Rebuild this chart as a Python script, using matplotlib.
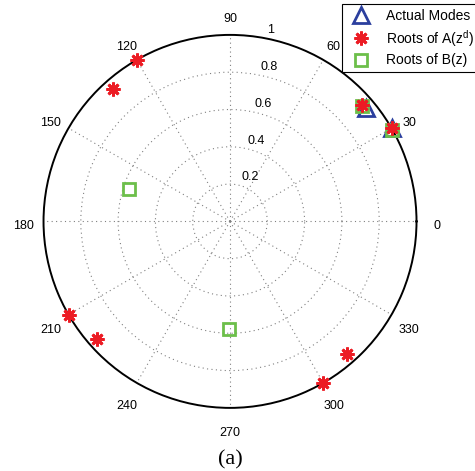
import matplotlib.pyplot as plt
import numpy as np

plt.rcParams['font.family'] = ['Liberation Sans', 'DejaVu Sans']
plt.rcParams['mathtext.fontset'] = 'custom'
plt.rcParams['mathtext.rm'] = 'Liberation Sans'

# pole locations: angle in degrees, radius (magnitude)
modes_deg = [40.0, 30.0]
modes_r = [0.95, 1.0]

roots_a_deg = [30.0, 41.5, 120.0, 131.5, 210.0, 221.5, 300.0, 311.5]
roots_a_r = [1.0, 0.945, 1.0, 0.945, 1.0, 0.95, 1.0, 0.95]

roots_b_deg = [41.2, 29.4, 162.0, 269.4]
roots_b_r = [0.94, 1.0, 0.57, 0.575]

ring_vals = [0.2, 0.4, 0.6, 0.8, 1.0]
ring_labels = ['0.2', '0.4', '0.6', '0.8', '1']
spoke_deg = np.arange(0, 360, 30)

fig = plt.figure(figsize=(4.75, 4.71), dpi=100)
ax = fig.add_axes([0.0916, 0.1340, 0.7853, 0.7919], projection='polar')
ax.set_ylim(0, 1)
ax.set_thetagrids(spoke_deg, [''] * len(spoke_deg))
ax.set_rgrids(ring_vals[:-1], [''] * (len(ring_vals) - 1))
ax.grid(True, color='#808080', linestyle=(0, (1, 3)), linewidth=0.8)
ax.spines['polar'].set_color('black')
ax.spines['polar'].set_linewidth(1.4)

# angle labels around the outside
for d in spoke_deg:
    ax.annotate(str(d), xy=(np.deg2rad(d), 1.11), xytext=(0, -3.5),
                textcoords='offset points', ha='center', va='center',
                fontsize=9, annotation_clip=False)

# radius labels along the 80 degree line
for r, lab in zip(ring_vals, ring_labels):
    ax.annotate(lab, xy=(np.deg2rad(80), r), xytext=(3.5, 1),
                textcoords='offset points', ha='left', va='bottom',
                fontsize=9, annotation_clip=False)

ax.plot(np.deg2rad(modes_deg), modes_r, linestyle='none', marker='^',
        markersize=11, markerfacecolor='none', markeredgecolor='#2b3f9e',
        markeredgewidth=2, label='Actual Modes', zorder=3, clip_on=False)
ax.plot(np.deg2rad(roots_a_deg), roots_a_r, linestyle='none', marker=(8, 2, 0),
        markersize=10, markeredgecolor='#ec1c24', markerfacecolor='#ec1c24',
        markeredgewidth=2, label='Roots of A(z$^\\mathrm{d}$)', zorder=5,
        clip_on=False)
ax.plot(np.deg2rad(roots_b_deg), roots_b_r, linestyle='none', marker='s',
        markersize=8, markerfacecolor='none', markeredgecolor='#6cbf4a',
        markeredgewidth=2, label='Roots of B(z)', zorder=4, clip_on=False)

leg = fig.legend(loc='upper left', bbox_to_anchor=(342 / 475, 1 - 4 / 471),
                 borderaxespad=0, fancybox=False, framealpha=1,
                 edgecolor='black', fontsize=10, handlelength=2.0,
                 handletextpad=0.8, labelspacing=0.35, borderpad=0.35)
leg.get_frame().set_linewidth(0.8)

# panel tag under the plot
fig.text(230 / 475, 1 - 460 / 471, '(a)', ha='center', va='center',
         fontsize=16, family=['Liberation Serif', 'DejaVu Serif'])

fig.savefig('out.png', dpi=100)
